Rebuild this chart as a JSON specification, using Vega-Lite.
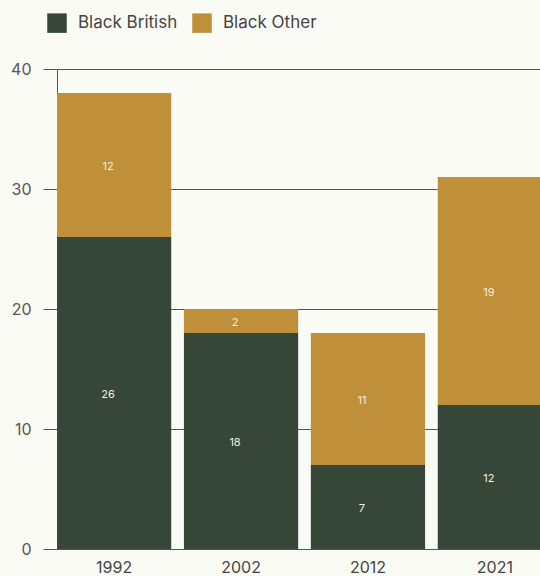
{
  "$schema": "https://vega.github.io/schema/vega-lite/v6.json",
  "width": 495,
  "height": 480,
  "autosize": {"type": "none"},
  "padding": {"left": 57, "top": 69, "right": 0, "bottom": 27},
  "background": "#fbfbf6",
  "config": {
    "view": {"stroke": null},
    "font": "Inter",
    "axis": {"labelFont": "Inter", "labelFontSize": 16, "labelColor": "#555555"},
    "legend": {"labelFont": "Inter", "labelFontSize": 17, "labelColor": "#444444"}
  },
  "data": {
    "values": [
      {"year": "1992", "group": "Black British", "order": 1, "value": 26},
      {"year": "1992", "group": "Black Other", "order": 2, "value": 12},
      {"year": "2002", "group": "Black British", "order": 1, "value": 18},
      {"year": "2002", "group": "Black Other", "order": 2, "value": 2},
      {"year": "2012", "group": "Black British", "order": 1, "value": 7},
      {"year": "2012", "group": "Black Other", "order": 2, "value": 11},
      {"year": "2021", "group": "Black British", "order": 1, "value": 12},
      {"year": "2021", "group": "Black Other", "order": 2, "value": 19}
    ]
  },
  "transform": [
    {"stack": "value", "groupby": ["year"], "sort": [{"field": "order", "order": "ascending"}], "as": ["v0", "v1"]},
    {"calculate": "(datum.v0 + datum.v1) / 2", "as": "mid"}
  ],
  "encoding": {
    "x": {
      "field": "year", "type": "nominal",
      "scale": {"paddingInner": 0.1, "paddingOuter": 0},
      "axis": {"title": null, "labelAngle": 0, "ticks": false, "domain": true, "domainColor": "#555555", "labelPadding": 10, "labelColor": "#444444"}
    }
  },
  "layer": [
    {
      "mark": {"type": "bar"},
      "encoding": {
        "y": {
          "field": "v0", "type": "quantitative",
          "scale": {"domain": [0, 40], "nice": false},
          "axis": {"title": null, "values": [0, 10, 20, 30, 40], "grid": true, "gridColor": "#555555", "gridOpacity": 1, "tickColor": "#555555", "tickSize": 14, "domainColor": "#555555", "labelPadding": 12}
        },
        "y2": {"field": "v1"},
        "color": {
          "field": "group", "type": "nominal",
          "scale": {"domain": ["Black British", "Black Other"], "range": ["#36473a", "#bf8f3a"]},
          "legend": {
            "title": null, "orient": "none", "direction": "horizontal",
            "legendX": -10, "legendY": -56,
            "symbolType": "square", "symbolSize": 380, "symbolStrokeWidth": 0, "symbolOpacity": 1,
            "labelOffset": 11, "columnPadding": 14
          }
        }
      }
    },
    {
      "mark": {"type": "text", "fontSize": 11, "color": "#f3eedf", "baseline": "middle", "dx": -6, "dy": 2},
      "encoding": {
        "y": {"field": "mid", "type": "quantitative"},
        "text": {"field": "value", "type": "quantitative"}
      }
    }
  ]
}
